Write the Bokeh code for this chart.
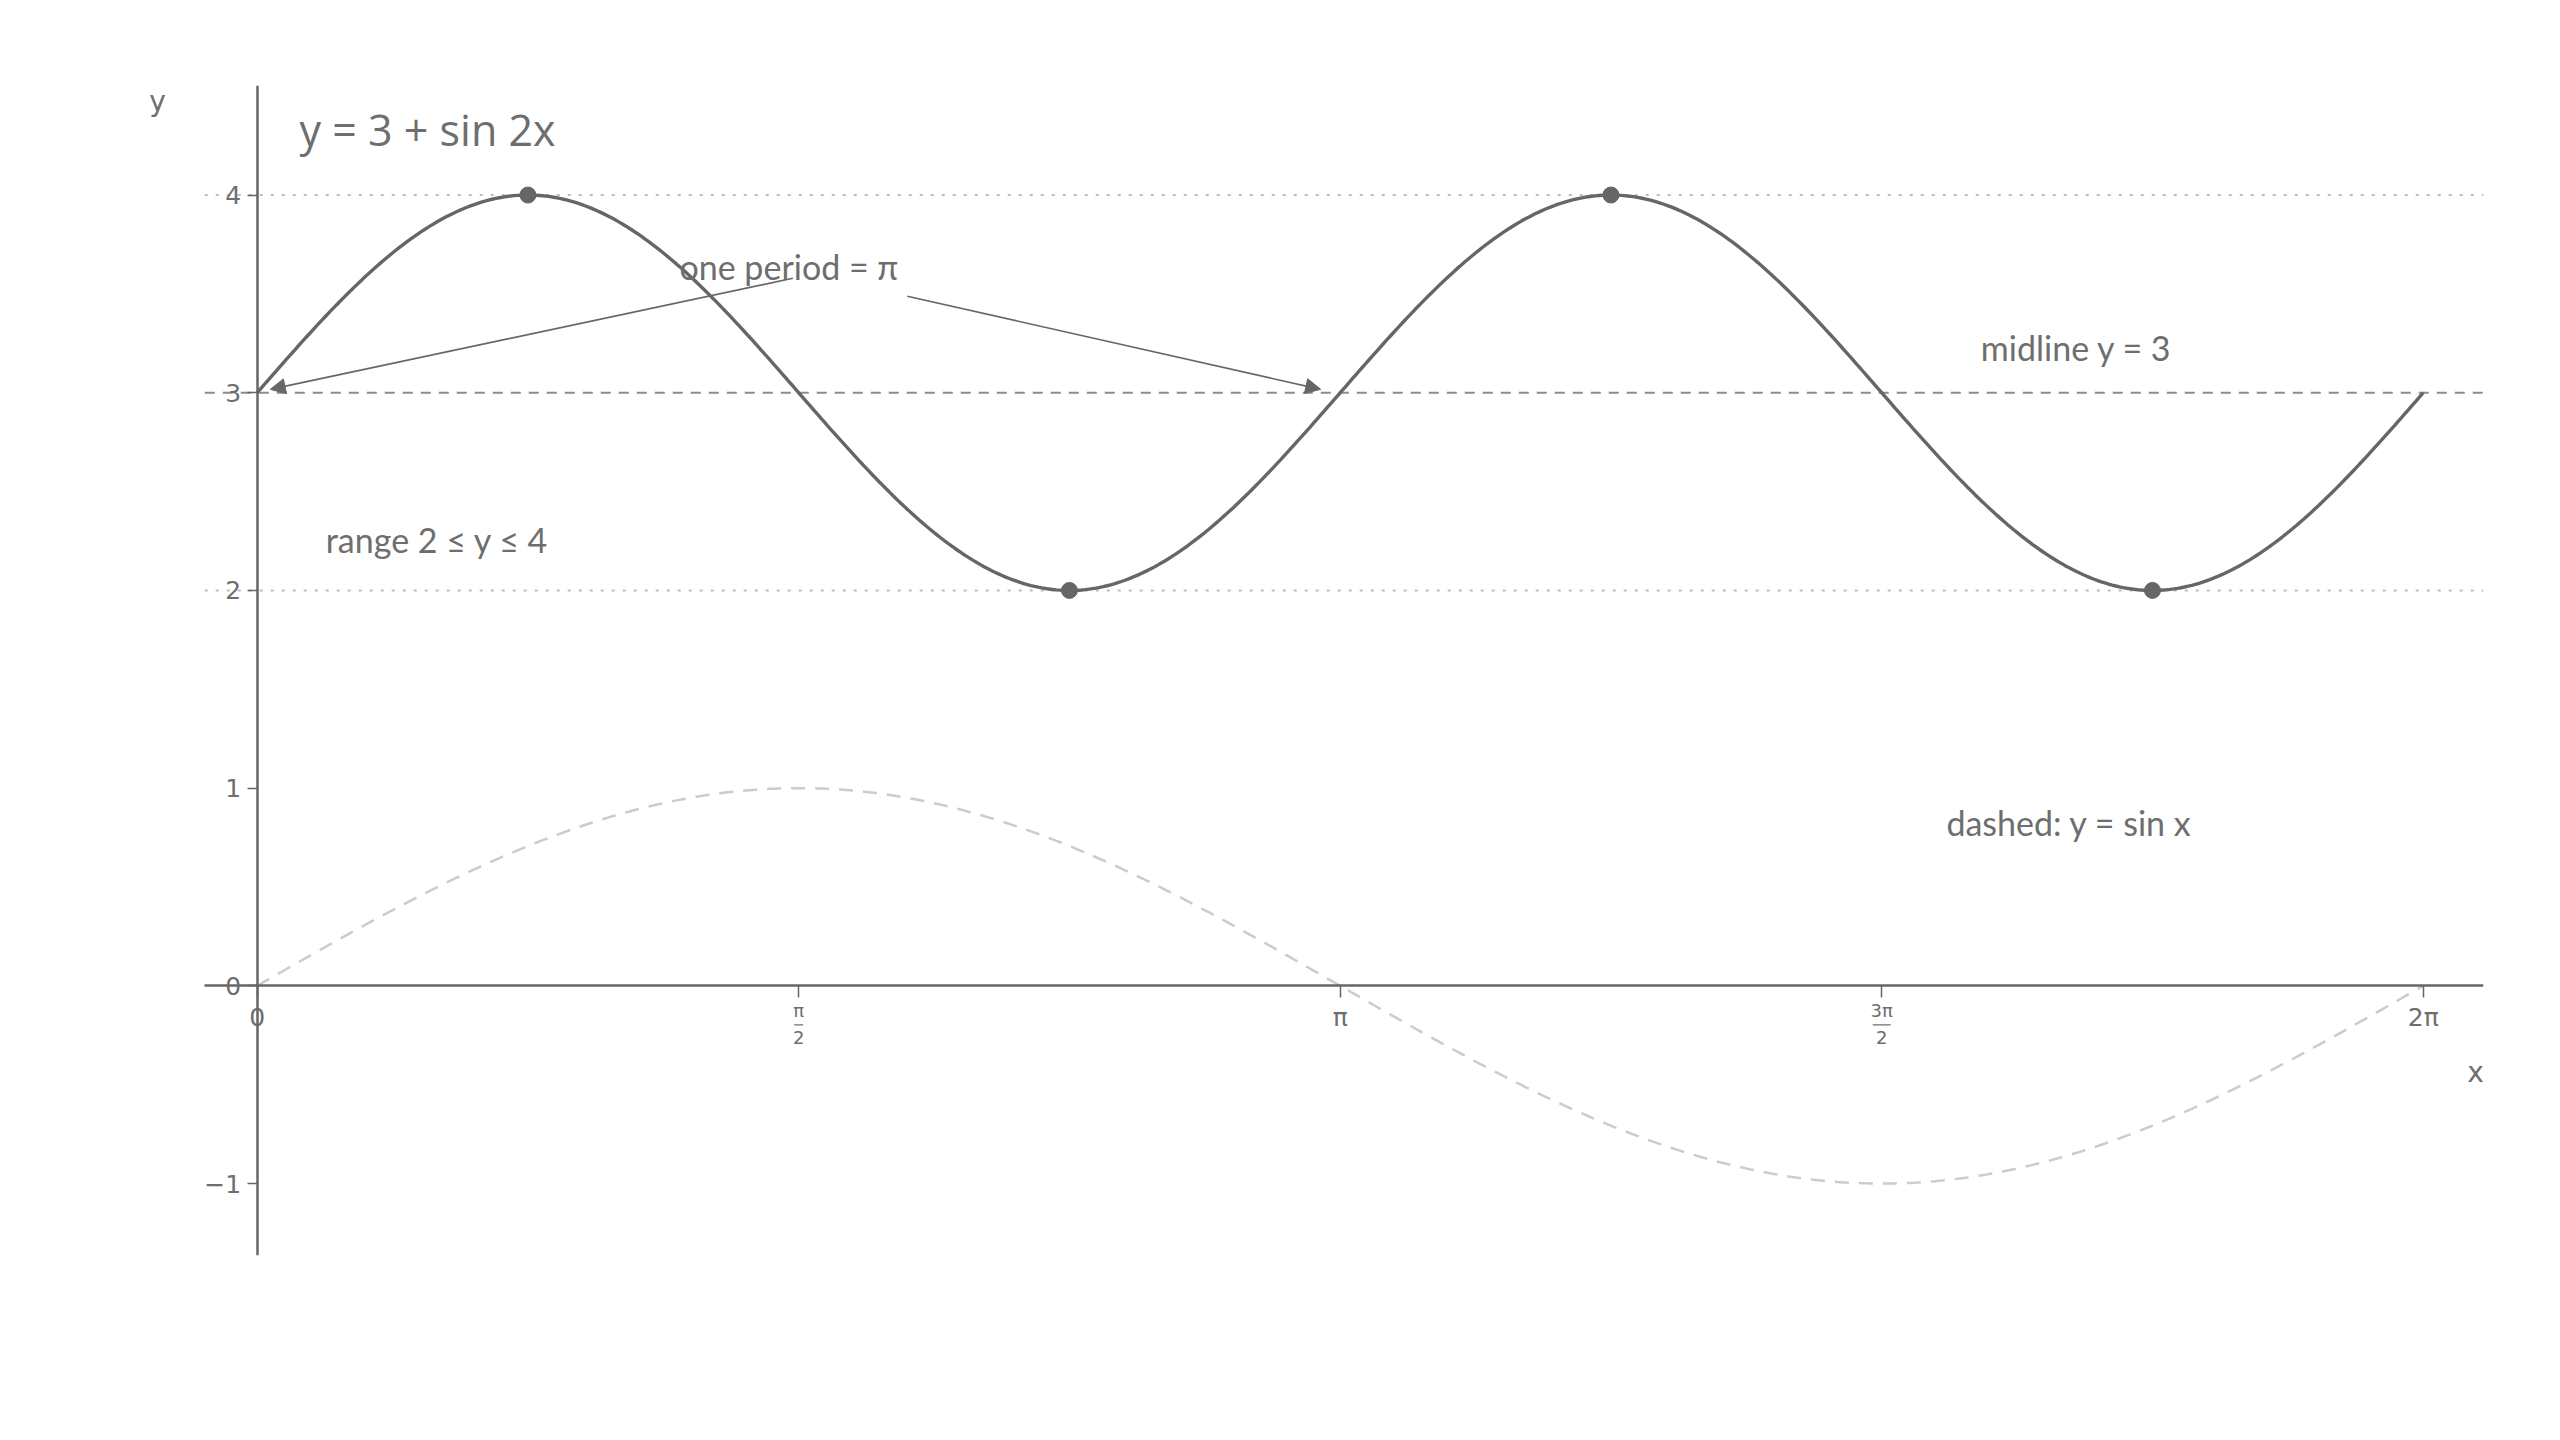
import numpy as np

from bokeh.plotting import figure
from bokeh.models import Label, Arrow, NormalHead, FixedTicker, Range1d
from bokeh.embed import file_html
from bokeh.resources import INLINE

# function parameters: y = midline + amplitude * sin(freq * x)
midline = 3
amplitude = 1
freq = 2

# extrema of y = 3 + sin 2x
extrema_x = [np.pi / 4, 3 * np.pi / 4, 5 * np.pi / 4, 7 * np.pi / 4]
extrema_y = [4, 2, 4, 2]

# reference lines
range_lines = [2, 4]
midline_y = 3

# extent of the drawn axes
x_lo, x_hi = -0.152, 6.458
y_lo, y_hi = -1.364, 4.554

# ticks
x_ticks = [0, np.pi / 2, np.pi, 3 * np.pi / 2, 2 * np.pi]
x_tick_labels = ["0", "", "π", "", "2π"]
frac_ticks = [np.pi / 2, 3 * np.pi / 2]
frac_tops = ["π", "3π"]
frac_bottoms = ["2", "2"]
y_ticks = [-1, 0, 1, 2, 3, 4]
y_tick_labels = ["−1", "0", "1", "2", "3", "4"]

# annotation texts
notes = ["one period  = π", "midline y = 3", "range 2 ≤ y ≤ 4", "dashed: y = sin x"]
notes_x = [1.225, 5.0, 0.199, 4.90]
notes_y = [3.636, 3.231, 2.256, 0.826]

# arrows of the "one period" note
arrows_x0 = [1.554, 1.886]
arrows_y0 = [3.579, 3.488]
arrows_x1 = [0.038, 3.085]
arrows_y1 = [3.017, 3.017]

ink = "#666666"
text_ink = "#6e6e6e"

xs = np.linspace(0, 2 * np.pi, 600)
ys = midline + amplitude * np.sin(freq * xs)
ys_sin = np.sin(xs)

p = figure(
    width=2544, height=1424,
    x_range=Range1d(-0.35, x_hi), y_range=Range1d(y_lo, y_hi),
    output_backend="svg", toolbar_location=None,
    min_border_left=136, min_border_right=61,
    min_border_top=85, min_border_bottom=169,
)
p.outline_line_color = None
p.grid.visible = False

# axes crossing at the origin
p.xaxis.fixed_location = 0
p.yaxis.fixed_location = 0
p.xaxis.bounds = (x_lo, x_hi)
p.yaxis.bounds = (y_lo, y_hi)
for ax in (p.xaxis[0], p.yaxis[0]):
    ax.axis_line_color = ink
    ax.axis_line_width = 2.5
    ax.major_tick_line_color = ink
    ax.major_tick_line_width = 1.5
    ax.major_tick_in = 0
    ax.minor_tick_line_color = None
    ax.major_label_text_color = text_ink
    ax.major_label_text_font = "DejaVu Sans"
    ax.major_label_text_font_size = "25px"

p.xaxis.ticker = FixedTicker(ticks=x_ticks)
p.xaxis.major_label_overrides = dict(zip(x_ticks, x_tick_labels))
p.xaxis.major_tick_out = 12
p.xaxis.major_label_standoff = 5

p.yaxis.ticker = FixedTicker(ticks=y_ticks)
p.yaxis.major_label_overrides = dict(zip(y_ticks, y_tick_labels))
p.yaxis.major_tick_out = 10
p.yaxis.major_label_standoff = 6

# fraction tick labels pi/2 and 3pi/2
for xt, top, bottom in zip(frac_ticks, frac_tops, frac_bottoms):
    p.add_layout(Label(x=xt, y=0, y_offset=-25, text=top, text_align="center",
                       text_baseline="middle", text_color=text_ink,
                       text_font="DejaVu Sans", text_font_size="18px"))
    p.add_layout(Label(x=xt, y=0, y_offset=-52, text=bottom, text_align="center",
                       text_baseline="middle", text_color=text_ink,
                       text_font="DejaVu Sans", text_font_size="18px"))
    half = 0.013 * len(top)
    p.segment(x0=[xt - half], x1=[xt + half], y0=[-0.197], y1=[-0.197],
              line_color=text_ink, line_width=1.2)

# reference lines
for yl in range_lines:
    p.line([x_lo, x_hi], [yl, yl], line_color="#bdbdbd", line_width=2, line_dash="3 8")
p.line([x_lo, x_hi], [midline_y, midline_y], line_color="#8c8c8c",
       line_width=2, line_dash="10 8")

# curves
p.line(xs, ys_sin, line_color="#cccccc", line_width=2.5, line_dash="14 10")
p.line(xs, ys, line_color=ink, line_width=3.4)
p.scatter(extrema_x, extrema_y, size=16, color=ink)

# axis names
p.add_layout(Label(x=-0.289, y=4.471, text="y", text_align="center",
                   text_baseline="middle", text_color=text_ink,
                   text_font="DejaVu Sans", text_font_size="28px"))
p.add_layout(Label(x=6.435, y=-0.438, text="x", text_align="center",
                   text_baseline="middle", text_color=text_ink,
                   text_font="DejaVu Sans", text_font_size="28px"))

# formula
p.add_layout(Label(x=0.123, y=4.33, text="y = 3 + sin 2x", text_align="left",
                   text_baseline="middle", text_color=text_ink,
                   text_font="Open Sans", text_font_size="43px"))

# notes
for t, nx, ny in zip(notes, notes_x, notes_y):
    p.add_layout(Label(x=nx, y=ny, text=t, text_align="left",
                       text_baseline="middle", text_color=text_ink,
                       text_font="Lato", text_font_size="34px"))

for x0, y0, x1, y1 in zip(arrows_x0, arrows_y0, arrows_x1, arrows_y1):
    p.add_layout(Arrow(end=NormalHead(size=15, fill_color=ink, line_color=ink),
                       x_start=x0, y_start=y0, x_end=x1, y_end=y1,
                       line_color=ink, line_width=1.6))

open("out.html", "w").write(file_html(p, INLINE))
